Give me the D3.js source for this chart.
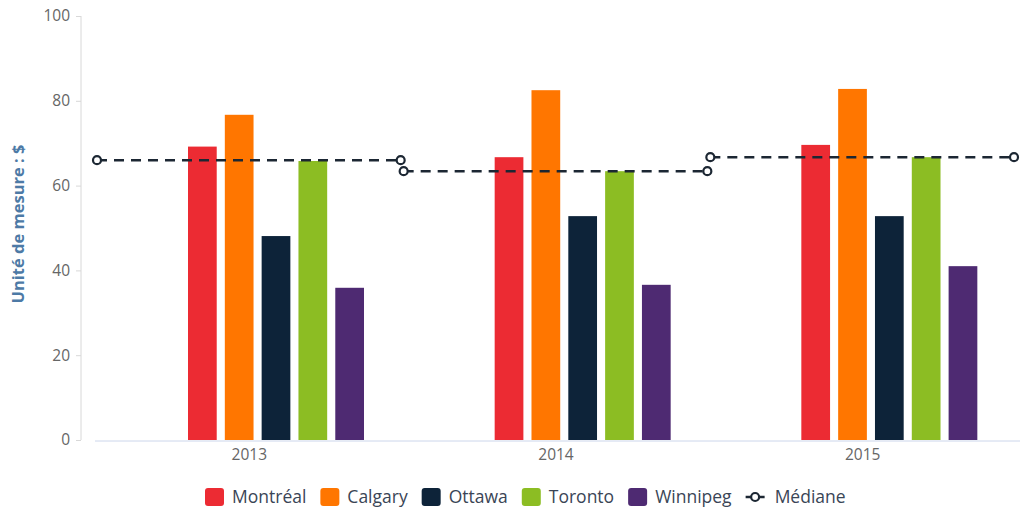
<!DOCTYPE html>
<html>
<head>
<meta charset="utf-8">
<script src="https://cdn.jsdelivr.net/npm/d3@7"></script>
<style>
  body { margin: 0; background: #fff; }
  text { font-family: "Open Sans", "Noto Sans", sans-serif; }
</style>
</head>
<body>
<div id="chart"></div>
<script>
var years = ["2013", "2014", "2015"];
var cities = ["Montréal", "Calgary", "Ottawa", "Toronto", "Winnipeg"];
var montreal = [69.2, 66.7, 69.6];
var calgary = [76.7, 82.5, 82.8];
var ottawa = [48.1, 52.8, 52.8];
var toronto = [65.8, 63.4, 66.7];
var winnipeg = [35.9, 36.6, 41.0];
var median = [66.0, 63.4, 66.7];
var yTicks = [0, 20, 40, 60, 80, 100];

var seriesValues = [montreal, calgary, ottawa, toronto, winnipeg];
var colors = ["#ec2b33", "#ff7600", "#0d2339", "#8cbd23", "#4e2a72"];

var width = 1024, height = 513;
var svg = d3.select("#chart").append("svg")
    .attr("width", width)
    .attr("height", height);

var x = d3.scaleBand().domain(years).range([96, 1016]);
var inner = d3.scaleBand().domain(cities).range([92, 268]).paddingInner(0.22);
var y = d3.scaleLinear().domain([0, 100]).range([440, 16]);

// y axis
var yAxis = svg.append("g").attr("transform", "translate(81,0)")
    .call(d3.axisLeft(y).tickValues(yTicks).tickSize(5).tickPadding(6));
yAxis.select(".domain").attr("stroke", "#d8d8d8").attr("d", "M0," + y(100) + "V" + y(0));
yAxis.selectAll(".tick line").attr("stroke", "#d8d8d8");
yAxis.selectAll(".tick text").attr("fill", "#666").style("font-size", "15.5px");

svg.append("text")
    .attr("transform", "translate(24," + (y(50) - 4) + ") rotate(-90)")
    .attr("text-anchor", "middle")
    .attr("fill", "#4d7aa6")
    .style("font-size", "16.5px")
    .style("font-weight", "bold")
    .text("Unité de mesure : $");

// x axis
var xAxis = svg.append("g").attr("transform", "translate(0," + (y(0) + 1) + ")")
    .call(d3.axisBottom(x).tickSize(0).tickPadding(8));
xAxis.select(".domain").attr("stroke", "#ccd6eb").attr("d", "M95,0H1020");
xAxis.selectAll(".tick text").attr("fill", "#666").style("font-size", "15.5px");

// bars
cities.forEach(function (c, i) {
  svg.append("g").selectAll("rect")
    .data(seriesValues[i])
    .enter().append("rect")
    .attr("x", function (d, j) { return x(years[j]) + inner(c); })
    .attr("width", inner.bandwidth())
    .attr("y", function (d) { return y(d); })
    .attr("height", function (d) { return y(0) - y(d); })
    .attr("fill", colors[i]);
});

// median segments
var med = svg.append("g");
median.forEach(function (m, j) {
  var x0 = x(years[j]) + 1, x1 = x(years[j]) + x.bandwidth() - 2;
  med.append("line")
    .attr("x1", x0).attr("x2", x1)
    .attr("y1", y(m)).attr("y2", y(m))
    .attr("stroke", "#1c2733")
    .attr("stroke-width", 2.5)
    .attr("stroke-dasharray", "10,7");
  [x0, x1].forEach(function (px) {
    med.append("circle")
      .attr("cx", px).attr("cy", y(m)).attr("r", 4)
      .attr("fill", "#fff")
      .attr("stroke", "#1c2733")
      .attr("stroke-width", 2.2);
  });
});

// legend
var legend = svg.append("g").attr("transform", "translate(0,497)");
var lx = 205;
cities.forEach(function (c, i) {
  legend.append("rect")
    .attr("x", lx).attr("y", -9)
    .attr("width", 19).attr("height", 18)
    .attr("rx", 3)
    .attr("fill", colors[i]);
  var t = legend.append("text")
    .attr("x", lx + 27).attr("y", 6)
    .attr("fill", "#3a4556")
    .style("font-size", "17.5px")
    .text(c);
  lx += 27 + t.node().getComputedTextLength() + 14;
});
legend.append("line")
  .attr("x1", lx).attr("x2", lx + 19)
  .attr("y1", 0).attr("y2", 0)
  .attr("stroke", "#1c2733").attr("stroke-width", 2.5);
legend.append("circle")
  .attr("cx", lx + 9.5).attr("cy", 0).attr("r", 4)
  .attr("fill", "#fff").attr("stroke", "#1c2733").attr("stroke-width", 2.2);
legend.append("text")
  .attr("x", lx + 29).attr("y", 6)
  .attr("fill", "#3a4556")
  .style("font-size", "17.5px")
  .text("Médiane");
</script>
</body>
</html>
